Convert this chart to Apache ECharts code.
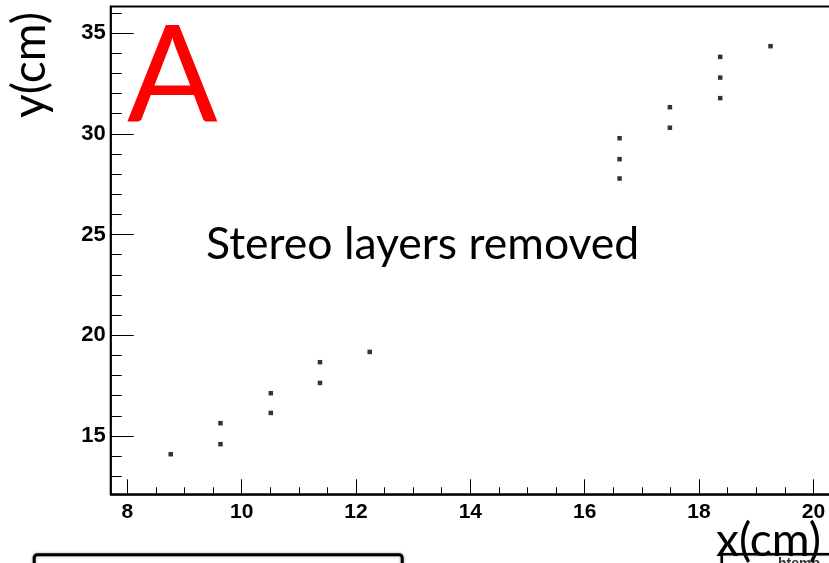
<!DOCTYPE html>
<html>
<head>
<meta charset="utf-8">
<title>Hit positions</title>
<script src="https://cdn.jsdelivr.net/npm/echarts@6/dist/echarts.min.js"></script>
<style>
  html, body { margin: 0; padding: 0; background: #fff; }
  #chart { width: 829px; height: 563px; }
</style>
</head>
<body>
<div id="chart"></div>
<script>
// Hit positions (cm) after removing the stereo layers
const hitX = [8.76, 9.63, 9.63, 10.51, 10.51, 11.37, 11.37, 12.24,
              16.61, 16.61, 16.61, 17.49, 17.49, 18.37, 18.37, 18.37, 19.25];
const hitY = [14.09, 14.59, 15.63, 16.14, 17.12, 17.63, 18.66, 19.17,
              27.78, 28.74, 29.78, 30.30, 31.32, 31.77, 32.79, 33.82, 34.35];

// Axis ranges and tick marks
const xRange = [7.71, 20.6];
const yRange = [12.1, 36.32];
const xMajorTicks = [8, 10, 12, 14, 16, 18, 20];
const xMinorTicks = [8.5, 9, 9.5, 10.5, 11, 11.5, 12.5, 13, 13.5, 14.5, 15, 15.5,
                     16.5, 17, 17.5, 18.5, 19, 19.5, 20.5];
const yMajorTicks = [15, 20, 25, 30, 35];
const yMinorTicks = [13, 14, 16, 17, 18, 19, 21, 22, 23, 24, 26, 27, 28, 29,
                     31, 32, 33, 34, 36];

const points = hitX.map((x, i) => [x, hitY[i]]);

const labelFont = {
  color: '#000',
  fontFamily: '"Liberation Sans", Arial, sans-serif',
  fontWeight: 'bold'
};
const calibriLike = '"Lato", "Open Sans", sans-serif';

const chart = echarts.init(document.getElementById('chart'), null, { renderer: 'canvas' });

chart.setOption({
  animation: false,
  backgroundColor: '#fff',
  grid: {
    left: 110.7, top: 6.5, width: 737, height: 487.8,
    outerBoundsMode: 'none',
    containLabel: false,
    show: true, borderColor: '#000', borderWidth: 2, backgroundColor: 'transparent'
  },
  xAxis: [
    {
      type: 'value', min: xRange[0], max: xRange[1], position: 'bottom',
      axisLine: { show: true, onZero: false, lineStyle: { color: '#000', width: 1.5 } },
      axisTick: { show: true, inside: true, length: 15, customValues: xMajorTicks,
                  lineStyle: { color: '#000', width: 1 } },
      axisLabel: Object.assign({ show: true, fontSize: 21, margin: 7,
                                 customValues: xMajorTicks }, labelFont),
      splitLine: { show: false }
    },
    {
      type: 'value', min: xRange[0], max: xRange[1], position: 'bottom',
      axisLine: { show: false },
      axisTick: { show: true, inside: true, length: 7, customValues: xMinorTicks,
                  lineStyle: { color: '#000', width: 1 } },
      axisLabel: { show: false },
      splitLine: { show: false }
    }
  ],
  yAxis: [
    {
      type: 'value', min: yRange[0], max: yRange[1], position: 'left',
      axisLine: { show: true, onZero: false, lineStyle: { color: '#000', width: 1.5 } },
      axisTick: { show: true, inside: true, length: 23, customValues: yMajorTicks,
                  lineStyle: { color: '#000', width: 1 } },
      axisLabel: Object.assign({ show: true, fontSize: 22, margin: 5,
                                 customValues: yMajorTicks }, labelFont),
      splitLine: { show: false }
    },
    {
      type: 'value', min: yRange[0], max: yRange[1], position: 'left',
      axisLine: { show: false },
      axisTick: { show: true, inside: true, length: 11, customValues: yMinorTicks,
                  lineStyle: { color: '#000', width: 1 } },
      axisLabel: { show: false },
      splitLine: { show: false }
    }
  ],
  series: [{
    type: 'scatter',
    xAxisIndex: 0, yAxisIndex: 0,
    data: points,
    symbol: 'rect',
    symbolSize: 4.5,
    itemStyle: { color: '#000' },
    silent: true
  }],
  graphic: [
    // neighbouring panels peeking in at the bottom edge
    {
      type: 'rect', left: 32.7, top: 553.3, z: 10,
      shape: { width: 368, height: 40, r: 3 },
      style: { fill: '#fff', stroke: '#000', lineWidth: 3,
               shadowBlur: 3, shadowColor: 'rgba(0,0,0,0.35)' }
    },
    {
      type: 'rect', left: 720.5, top: 553, z: 10,
      shape: { width: 140, height: 40 },
      style: { fill: '#fff', stroke: '#000', lineWidth: 2.5,
               shadowBlur: 2, shadowColor: 'rgba(0,0,0,0.3)' }
    },
    {
      type: 'text', z: 11,
      style: { text: 'htemp', x: 778, y: 557, textAlign: 'left', textVerticalAlign: 'top',
               fill: '#333', font: 'bold 14px "Liberation Sans", Arial, sans-serif' }
    },
    {
      type: 'text', z: 20,
      style: { text: 'A', x: 127, y: 78, textAlign: 'left', textVerticalAlign: 'middle',
               fill: '#ff0000', font: '134px ' + calibriLike }
    },
    {
      type: 'text', z: 20,
      style: { text: 'Stereo layers removed', x: 206, y: 245, textAlign: 'left',
               textVerticalAlign: 'middle', fill: '#000', font: '44.5px ' + calibriLike }
    },
    {
      type: 'text', z: 20, x: 30, y: 12, rotation: Math.PI / 2,
      style: { text: 'y(cm)', x: 0, y: 0, textAlign: 'right', textVerticalAlign: 'middle',
               fill: '#000', font: '46px ' + calibriLike }
    },
    {
      type: 'text', z: 20,
      style: { text: 'x(cm)', x: 716, y: 541, textAlign: 'left', textVerticalAlign: 'middle',
               fill: '#000', font: '46px ' + calibriLike }
    }
  ]
});
</script>
</body>
</html>
